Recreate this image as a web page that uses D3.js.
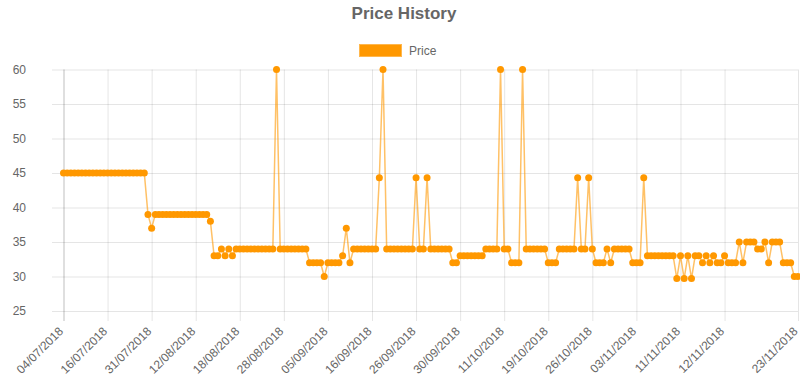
<!DOCTYPE html>
<html>
<head>
<meta charset="utf-8">
<script src="https://cdn.jsdelivr.net/npm/d3@7"></script>
<style>
  body { margin: 0; background: #fff; }
  text { font-family: "Liberation Sans", Arial, sans-serif; }
</style>
</head>
<body>
<div id="vizcont"></div>
<script>
// price readings, one per scrape
var price = [
  45,45,45,45,45,45,45,45,45,45,45,45,45,45,45,45,45,45,45,45,
  45,45,45,39,37,39,39,39,39,39,39,39,39,39,39,39,39,39,39,39,
  38,33,33,34,33,34,33,34,34,34,34,34,34,34,34,34,34,34,60,34,
  34,34,34,34,34,34,34,32,32,32,32,30,32,32,32,32,33,37,32,34,
  34,34,34,34,34,34,44.3,60,34,34,34,34,34,34,34,34,44.3,34,34,44.3,
  34,34,34,34,34,34,32,32,33,33,33,33,33,33,33,34,34,34,34,60,
  34,34,32,32,32,60,34,34,34,34,34,34,32,32,32,34,34,34,34,34,
  44.3,34,34,44.3,34,32,32,32,34,32,34,34,34,34,34,32,32,32,44.3,33,
  33,33,33,33,33,33,33,29.7,33,29.7,33,29.7,33,33,32,33,32,33,32,32,
  33,32,32,32,35,32,35,35,35,34,34,35,32,35,35,35,32,32,32,30,30
];

// x tick labels (category axis, auto skipped) and the point they sit on
var tickLabels = ["04/07/2018", "16/07/2018", "31/07/2018", "12/08/2018", "18/08/2018",
                  "28/08/2018", "05/09/2018", "16/09/2018", "26/09/2018", "30/09/2018",
                  "11/10/2018", "19/10/2018", "26/10/2018", "03/11/2018", "11/11/2018",
                  "12/11/2018", "23/11/2018"];
var tickIndex = [0, 12, 24, 36, 48, 60, 72, 84, 96, 108, 120, 132, 144, 156, 168, 180, 200];
var yTicks = [25, 30, 35, 40, 45, 50, 55, 60];

function draw_pricehist() {
    var margin = {top: 69.5, right: 2, bottom: 65, left: 63.5};
    var width = 800 - margin.left - margin.right;
    var height = 376 - margin.top - margin.bottom;
    var orange = "#ff9800";
    var grey = "#666";

    var svg = d3.select("#vizcont")
                .append("svg")
                .attr("width", 800)
                .attr("height", 376);

    // title + legend
    svg.append("text")
       .attr("x", 404)
       .attr("y", 19)
       .attr("text-anchor", "middle")
       .style("font-size", "17px")
       .style("font-weight", "bold")
       .style("fill", grey)
       .text("Price History");

    svg.append("rect")
       .attr("x", 359.5)
       .attr("y", 44.5)
       .attr("width", 42)
       .attr("height", 12)
       .style("fill", orange)
       .style("stroke", "#ffb74d")
       .style("stroke-width", 1);

    svg.append("text")
       .attr("x", 409)
       .attr("y", 55)
       .style("font-size", "12px")
       .style("fill", grey)
       .text("Price");

    var g = svg.append("g")
               .attr("transform", "translate(" + margin.left + "," + margin.top + ")");

    var x = d3.scaleLinear().domain([0, price.length - 1]).range([0, width]);
    var y = d3.scaleLinear().domain([25, 60]).range([height, 0]);

    // y axis: ticks run across as grid lines
    var yAxis = g.append("g")
        .attr("transform", "translate(" + width + ",0)")
        .call(d3.axisLeft(y).tickValues(yTicks).tickSize(width + 11.5).tickPadding(26));
    yAxis.select(".domain").remove();
    yAxis.selectAll("line").style("stroke", "rgba(0,0,0,0.1)");
    yAxis.selectAll("text")
         .style("font-size", "12px")
         .style("font-family", "'Liberation Sans', Arial, sans-serif")
         .style("fill", grey);

    // x axis with rotated date labels
    var xAxis = g.append("g")
        .call(d3.axisBottom(x)
                .tickValues(tickIndex)
                .tickSize(height + 10)
                .tickFormat(function(d, i) { return tickLabels[i]; }));
    xAxis.select(".domain").remove();
    xAxis.selectAll("line")
         .style("stroke", function(d, i) { return i == 0 ? "rgba(0,0,0,0.25)" : "rgba(0,0,0,0.1)"; });
    xAxis.selectAll("text")
         .attr("y", null)
         .attr("dy", "0.35em")
         .attr("transform", "translate(-3," + (height + 18) + ") rotate(-45)")
         .style("text-anchor", "end")
         .style("font-size", "12px")
         .style("font-family", "'Liberation Sans', Arial, sans-serif")
         .style("fill", grey);

    var line = d3.line()
                 .x(function(d, i) { return x(i); })
                 .y(function(d) { return y(d); });

    g.append("path")
     .datum(price)
     .attr("d", line)
     .style("fill", "none")
     .style("stroke", "rgba(255,152,0,0.6)")
     .style("stroke-width", 1.5);

    g.selectAll(".dot")
     .data(price)
     .enter()
     .append("circle")
     .attr("class", "dot")
     .attr("cx", function(d, i) { return x(i); })
     .attr("cy", function(d) { return y(d); })
     .attr("r", 3.5)
     .style("fill", orange);
}

draw_pricehist();
</script>
</body>
</html>
